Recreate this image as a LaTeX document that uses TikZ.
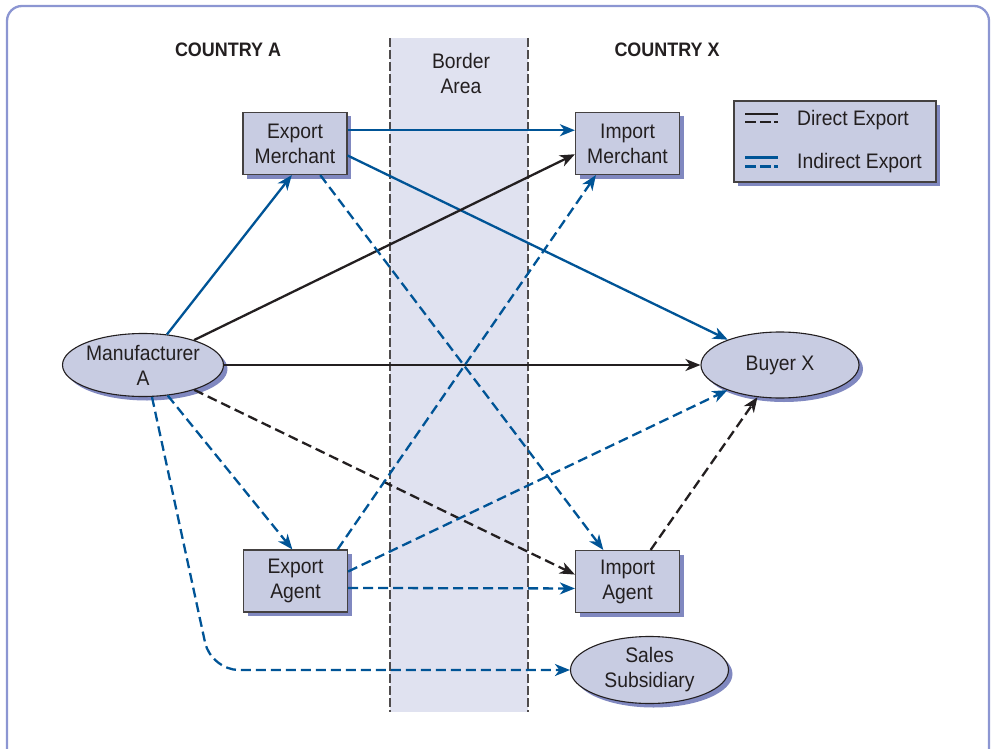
\documentclass[tikz,border=0pt]{standalone}
\usepackage{fontspec}
\setmainfont{Liberation Sans}[FakeStretch=0.92]
\usetikzlibrary{arrows.meta,shapes.geometric,shadows,calc}

\definecolor{framecol}{RGB}{140,150,210}
\definecolor{boxfill}{RGB}{200,204,226}
\definecolor{borderfill}{RGB}{224,226,240}
\definecolor{shadowcol}{RGB}{128,136,192}
\definecolor{expblue}{RGB}{0,84,150}
\definecolor{inkcol}{RGB}{35,31,32}

\begin{document}
\begin{tikzpicture}[x=1pt,y=-1pt,
  every node/.style={font=\fontsize{21}{25}\selectfont, text=inkcol, align=center},
  shadowed/.style={drop shadow={shadow xshift=4pt, shadow yshift=-4pt, fill=shadowcol, opacity=1}},
  party/.style={shadowed, draw=inkcol!85, line width=1.2pt, fill=boxfill,
    minimum width=104pt, minimum height=62pt, inner sep=0pt},
  firm/.style={shadowed, ellipse, draw=inkcol, line width=1.1pt, fill=boxfill,
    minimum width=158pt, inner sep=0pt},
  heading/.style={font=\fontsize{19.5}{24}\selectfont\bfseries},
  flow/.style={line width=2.3pt, -{Stealth[length=15pt,width=12pt,inset=4.5pt]}},
  direct/.style={flow, draw=inkcol},
  indirect/.style={flow, draw=expblue},
  broken/.style={dash pattern=on 10pt off 5pt},
  borderline/.style={draw=inkcol!80, line width=1.1pt, dash pattern=on 9pt off 3pt},
  keyline/.style={line width=2.2pt}
]
\useasboundingbox (0,0) rectangle (993,749);

% outer frame
\draw[framecol, line width=2.3pt, rounded corners=15pt] (7,6) rectangle (989,775);

% border strip between the two countries
\fill[borderfill] (390,38) rectangle (528,712);
\draw[borderline] (390,38) -- (390,712);
\draw[borderline] (528,38) -- (528,712);
\node (borderlbl) at (461,73) {Border\\Area};

% country headings
\node[heading] (countryA) at (228,50) {COUNTRY A};
\node[heading] (countryX) at (667,50) {COUNTRY X};

% parties
\node[party] (em) at (295,143.5) {Export\\Merchant};
\node[party] (im) at (627.5,143.5) {Import\\Merchant};
\node[party] (ea) at (295.5,581) {Export\\Agent};
\node[party] (ia) at (627.5,581.5) {Import\\Agent};
\node[firm, minimum height=63pt] (mfr) at (143,365) {Manufacturer\\A};
\node[firm, minimum height=66pt] (buyer) at (780,365) {Buyer X};
\node[firm, minimum height=67pt] (sales) at (649.5,670) {Sales\\Subsidiary};

% legend
\node[party, minimum width=202pt, minimum height=81pt] (legend) at (835,141.5) {};
\draw[keyline, inkcol] ($(legend.north west)+(12,14)$) -- ($(legend.north west)+(45,14)$);
\draw[keyline, inkcol, dash pattern=on 11pt off 3.5pt] ($(legend.north west)+(12,22)$) -- ($(legend.north west)+(45,22)$);
\draw[keyline, expblue] ($(legend.north west)+(12,57)$) -- ($(legend.north west)+(45,57)$);
\draw[keyline, expblue, dash pattern=on 11pt off 3.5pt] ($(legend.north west)+(12,66)$) -- ($(legend.north west)+(45,66)$);
\node[anchor=west, inner sep=0pt] (keydirect) at (797,120) {Direct Export};
\node[anchor=west, inner sep=0pt] (keyindirect) at (797,163) {Indirect Export};

% indirect export, solid
\draw[indirect] (mfr) -- ($(em.south west)!0.47!(em.south east)$);
\draw[indirect] ($(em.north east)!0.29!(em.south east)$) -- ($(im.north west)!0.29!(im.south west)$);
\draw[indirect] ($(em.north east)!0.69!(em.south east)$) -- (buyer);

% direct export, solid
\draw[direct] (mfr) -- ($(im.north west)!0.67!(im.south west)$);
\draw[direct] (mfr) -- (buyer);

% direct export, dashed
\draw[direct, broken] (mfr) -- ($(ia.north west)!0.39!(ia.south west)$);
\draw[direct, broken] ($(ia.north west)!0.72!(ia.north east)$) -- (buyer);

% indirect export, dashed
\draw[indirect, broken] ($(em.south west)!0.74!(em.south east)$) -- ($(ia.north west)!0.27!(ia.north east)$);
\draw[indirect, broken] (mfr) -- ($(ea.north west)!0.47!(ea.north east)$);
\coordinate (bend) at (211,670);
\draw[indirect, broken, rounded corners=28pt] ($(mfr.south)+(9,0)$) -- (bend) -- (sales.west);
\draw[indirect, broken] ($(ea.north west)!0.9!(ea.north east)$) -- ($(im.south west)!0.2!(im.south east)$);
\draw[indirect, broken] ($(ea.north east)!0.35!(ea.south east)$) -- (buyer);
\draw[indirect, broken] ($(ea.north east)!0.61!(ea.south east)$) -- ($(ia.north west)!0.61!(ia.south west)$);
\end{tikzpicture}
\end{document}
